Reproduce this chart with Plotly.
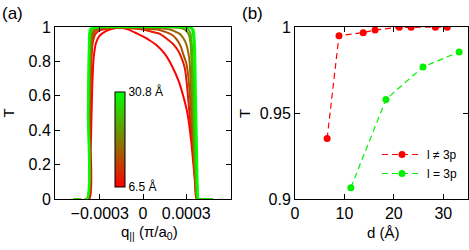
import plotly.graph_objects as go

# ---------------- Panel (a) data: T(q) curves, q in units of 1e-4 (pi/a0) ----------------
d_curves = [6.5, 8.9, 13.8, 16.2, 21.1, 23.5, 28.4, 30.8]

q_65 = [-4.8, -3.72, -3.62, -3.52, -3.42, -3.25, -3.0, -2.6, -2.1, -1.6, -1.0, -0.5, 0.0, 0.5, 1.0, 1.5, 2.0, 2.5, 2.85, 3.1, 3.35, 3.55, 3.7, 3.78, 4.8]
T_65 = [0.0, 0.0, 0.3, 0.65, 0.82, 0.91, 0.95, 0.975, 0.99, 0.995, 0.985, 0.965, 0.945, 0.92, 0.89, 0.845, 0.775, 0.68, 0.58, 0.49, 0.33, 0.15, 0.02, 0.0, 0.0]

q_89 = [-4.8, -3.8, -3.7, -3.6, -3.5, -3.3, -3.0, -2.5, -1.5, 0.0, 0.5, 1.17, 1.6, 2.1, 2.45, 2.67, 2.9, 3.05, 3.2, 3.45, 3.62, 3.72, 4.8]
T_89 = [0.0, 0.0, 0.35, 0.75, 0.9, 0.96, 0.98, 0.99, 0.995, 0.985, 0.975, 0.96, 0.935, 0.9, 0.86, 0.82, 0.76, 0.66, 0.52, 0.3, 0.1, 0.0, 0.0]

q_138 = [-4.8, -3.82, -3.72, -3.62, -3.52, -3.35, -3.0, -2.0, 0.0, 1.0, 1.6, 2.0, 2.32, 2.6, 2.8, 3.0, 3.13, 3.25, 3.38, 3.52, 3.65, 3.75, 4.8]
T_138 = [0.0, 0.0, 0.4, 0.8, 0.93, 0.975, 0.99, 0.995, 0.99, 0.985, 0.97, 0.955, 0.93, 0.89, 0.84, 0.79, 0.72, 0.6, 0.45, 0.25, 0.08, 0.0, 0.0]

q_162 = [-4.8, -3.84, -3.74, -3.64, -3.54, -3.35, -3.0, 0.0, 1.5, 1.86, 2.2, 2.55, 2.8, 3.0, 3.2, 3.3, 3.4, 3.55, 3.68, 3.78, 4.8]
T_162 = [0.0, 0.0, 0.45, 0.85, 0.95, 0.985, 0.993, 0.995, 0.99, 0.985, 0.975, 0.96, 0.935, 0.9, 0.82, 0.7, 0.5, 0.25, 0.06, 0.0, 0.0]

q_211 = [-4.8, -3.86, -3.76, -3.66, -3.56, -3.4, 0.0, 2.5, 2.9, 3.15, 3.3, 3.4, 3.5, 3.62, 3.72, 3.8, 4.8]
T_211 = [0.0, 0.0, 0.5, 0.9, 0.98, 0.995, 1.0, 0.995, 0.985, 0.96, 0.9, 0.7, 0.45, 0.2, 0.05, 0.0, 0.0]

q_235 = [-4.8, -3.87, -3.78, -3.7, -3.6, -3.45, 0.0, 2.8, 3.1, 3.3, 3.42, 3.5, 3.6, 3.72, 3.8, 4.8]
T_235 = [0.0, 0.0, 0.5, 0.9, 0.98, 0.997, 1.0, 0.998, 0.99, 0.96, 0.85, 0.6, 0.3, 0.07, 0.0, 0.0]

q_284 = [-4.8, -3.88, -3.8, -3.72, -3.62, 0.0, 3.2, 3.4, 3.52, 3.6, 3.68, 3.76, 3.83, 4.8]
T_284 = [0.0, 0.0, 0.5, 0.92, 0.99, 1.0, 0.998, 0.985, 0.9, 0.6, 0.3, 0.07, 0.0, 0.0]

q_308 = [-4.8, -3.9, -3.82, -3.74, -3.65, 0.0, 3.3, 3.5, 3.6, 3.67, 3.74, 3.8, 3.87, 4.8]
T_308 = [0.0, 0.0, 0.5, 0.93, 0.99, 1.0, 0.998, 0.985, 0.9, 0.6, 0.3, 0.07, 0.0, 0.0]

q_lists = [q_65, q_89, q_138, q_162, q_211, q_235, q_284, q_308]
T_lists = [T_65, T_89, T_138, T_162, T_211, T_235, T_284, T_308]

# ---------------- Panel (b) data ----------------
d_ne3p = [6.5, 8.9, 13.8, 16.2, 21.1, 23.5, 28.4, 30.8]
T_ne3p = [0.9352, 0.9949, 0.9967, 0.9983, 0.9998, 0.9998, 0.9999, 0.9999]
d_eq3p = [11.3, 18.4, 25.9, 33.2]
T_eq3p = [0.9066, 0.9579, 0.9768, 0.9855]

a_xticks = [-0.0003, 0.0, 0.0003]
a_xticktext = ["\u22120.0003", "0", "0.0003"]
a_yticks = [0, 0.2, 0.4, 0.6, 0.8, 1]
b_xticks = [0, 10, 20, 30]
b_yticks = [0.9, 0.95, 1.0]
b_yticktext = ["0.9", "0.95", "1"]

dmin, dmax = 6.5, 30.8
FONT = "Liberation Sans, Arial, sans-serif"
W, H = 469, 250


def mix(d):
    f = (d - dmin) / (dmax - dmin)
    return "rgb(%d,%d,0)" % (round(255 * (1 - f)), round(255 * f))


fig = go.Figure()

for d, qs, Ts in zip(d_curves, q_lists, T_lists):
    fig.add_trace(go.Scatter(
        x=[q * 1e-4 for q in qs], y=Ts, mode="lines",
        line=dict(color=mix(d), width=2, shape="spline", smoothing=0.6),
        showlegend=False, xaxis="x", yaxis="y", hoverinfo="skip"))

# colour bar (dummy trace)
cbar = dict(x=115 / W, xanchor="left", xpad=0, ypad=0,
            y=(H - 139.2) / H, yanchor="middle",
            lenmode="pixels", len=95, thickness=10,
            outlinecolor="black", outlinewidth=1,
            tickvals=[dmin, dmax], ticktext=["6.5 \u00c5", "30.8 \u00c5"],
            ticks="",
            tickfont=dict(family=FONT, size=12, color="black"))
fig.add_trace(go.Scatter(
    x=[None], y=[None], mode="markers", showlegend=False, xaxis="x", yaxis="y",
    marker=dict(color=[dmin], cmin=dmin, cmax=dmax,
                colorscale=[[0, "rgb(255,0,0)"], [1, "rgb(0,255,0)"]],
                showscale=True, colorbar=cbar)))

fig.add_trace(go.Scatter(
    x=d_ne3p, y=T_ne3p, mode="lines+markers", name="l \u2260 3p",
    line=dict(color="#ff0000", width=1.2, dash="6px,4px"),
    marker=dict(color="#ff0000", size=7), xaxis="x2", yaxis="y2"))
fig.add_trace(go.Scatter(
    x=d_eq3p, y=T_eq3p, mode="lines+markers", name="l = 3p",
    line=dict(color="#00f000", width=1.2, dash="6px,4px"),
    marker=dict(color="#00f000", size=7), xaxis="x2", yaxis="y2"))

ax = dict(showline=True, linecolor="black", linewidth=1, mirror="allticks",
          ticks="inside", ticklen=5, tickcolor="black", tickwidth=1,
          showgrid=False, zeroline=False, automargin=False,
          tickfont=dict(family=FONT, size=16, color="black"))

ydom = [(H - 199) / H, (H - 27) / H]
fig.update_layout(
    template="none",
    width=W, height=H, margin=dict(l=0, r=0, t=0, b=0, autoexpand=False),
    paper_bgcolor="white", plot_bgcolor="white",
    font=dict(family=FONT, color="black"),
    xaxis=dict(ax, domain=[55 / W, 231 / W], range=[-0.00061, 0.00061],
               tickvals=a_xticks, ticktext=a_xticktext, anchor="y"),
    yaxis=dict(ax, domain=ydom, range=[0, 1], tickvals=a_yticks, anchor="x"),
    xaxis2=dict(ax, domain=[295 / W, 468 / W], range=[0, 35],
                tickvals=b_xticks, anchor="y2"),
    yaxis2=dict(ax, domain=ydom, range=[0.9, 1.0], tickvals=b_yticks,
                ticktext=b_yticktext, anchor="x2"),
    legend=dict(x=463 / W, xanchor="right", y=(H - 164) / H, yanchor="middle",
                bgcolor="rgba(0,0,0,0)", font=dict(family=FONT, size=12),
                tracegroupgap=0, itemwidth=40),
    showlegend=True,
)

ann = [
    dict(text="(a)", x=0 / W, y=(H - 13) / H, xanchor="left", yanchor="middle", size=17),
    dict(text="(b)", x=240 / W, y=(H - 13) / H, xanchor="left", yanchor="middle", size=17),
    dict(text="T", x=8.5 / W, y=(H - 113) / H, xanchor="center", yanchor="middle", size=15, angle=-90),
    dict(text="T", x=245 / W, y=(H - 113) / H, xanchor="center", yanchor="middle", size=15, angle=-90),
    dict(text="q<sub>||</sub> (\u03c0/a<sub>0</sub>)", x=149 / W, y=(H - 232) / H, xanchor="center", yanchor="middle", size=15),
    dict(text="d (\u00c5)", x=383 / W, y=(H - 232) / H, xanchor="center", yanchor="middle", size=15),
]
for a in ann:
    fig.add_annotation(text=a["text"], x=a["x"], y=a["y"], xref="paper", yref="paper",
                       xanchor=a["xanchor"], yanchor=a["yanchor"], showarrow=False,
                       textangle=a.get("angle", 0),
                       font=dict(family=FONT, size=a["size"], color="black"))

fig.write_html("out.html", config={"displayModeBar": False},
               post_script="document.body.style.margin='0';document.body.style.padding='0';")
